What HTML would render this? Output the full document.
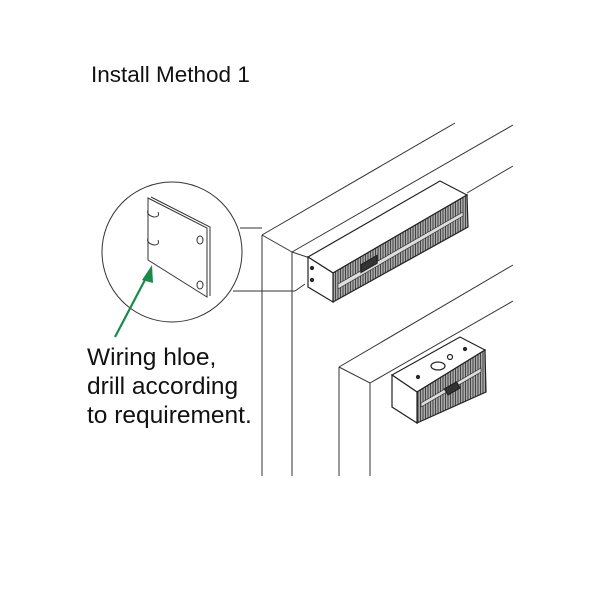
<!DOCTYPE html>
<html><head><meta charset="utf-8"><style>
html,body{margin:0;padding:0;background:#fff;width:600px;height:600px;overflow:hidden}
svg{position:absolute;left:0;top:0}
</style></head><body>
<svg width="600" height="600" viewBox="0 0 600 600" xmlns="http://www.w3.org/2000/svg">
<defs>
<pattern id="h" width="2.5" height="3" patternUnits="userSpaceOnUse">
<rect width="2.5" height="3" fill="#aaa"/><line x1="0.5" y1="0" x2="0.5" y2="3" stroke="#444" stroke-width="1"/>
</pattern>
</defs>
<text x="91" y="82" font-family="Liberation Sans, sans-serif" font-size="22.5" fill="#111">Install Method 1</text>
<g stroke="#333" stroke-width="1" fill="none">
<line x1="262" y1="235" x2="455" y2="123"/>
<line x1="292" y1="252" x2="513" y2="125"/>
<line x1="262" y1="235" x2="292" y2="252"/>
<line x1="262" y1="235" x2="262" y2="476"/>
<line x1="292" y1="252" x2="292" y2="476"/>
<line x1="292" y1="252" x2="310" y2="258"/>
<line x1="467" y1="193" x2="513" y2="166"/>
<line x1="339" y1="367" x2="513" y2="265"/>
<line x1="370" y1="383" x2="513" y2="301"/>
<line x1="339" y1="367" x2="370" y2="383"/>
<line x1="339" y1="367" x2="339" y2="476"/>
<line x1="370" y1="383" x2="370" y2="476"/>
<circle cx="172" cy="252" r="70"/>
<line x1="240" y1="228" x2="262" y2="228"/>
<line x1="233" y1="291" x2="295" y2="291"/>
<line x1="295" y1="291" x2="305" y2="284"/>
<path d="M148 198 L207 228 L207 297 L148 260 Z"/>
<path d="M151 197 L210 227 L210 296"/>
<path d="M148 210 q-2 5 6 7 q6 0 4 -5"/>
<path d="M148 238 q-2 5 6 7 q6 0 4 -5"/>
<ellipse cx="200" cy="240" rx="3" ry="4"/>
<ellipse cx="200" cy="285" rx="3" ry="4"/>
</g>
<g stroke="#222" stroke-width="1.2">
<path d="M308 257 L440 181 L467 195 L333 273 Z" fill="#fff"/>
<path d="M333 273 L467 195 L468 227 L333 302 Z" fill="url(#h)"/>
<path d="M338 284 L463 212 L463 216 L338 289 Z" fill="#ddd" stroke-width="0.6"/>
<path d="M308 257 L333 273 L333 302 L308 287 Z" fill="#fff"/>
<rect x="361" y="263" width="16" height="8" fill="#333" transform="skewY(-30) translate(0,210)"/>
<circle cx="312" cy="268" r="1.5" fill="#333"/><circle cx="312" cy="280" r="1.5" fill="#333"/>
</g>
<g stroke="#222" stroke-width="1.2">
<path d="M392 375 L460 337 L485 350 L417 392 Z" fill="#fff"/>
<path d="M417 392 L485 350 L486 392 L417 423 Z" fill="url(#h)"/>
<path d="M421 403 L481 368 L481 372 L421 407 Z" fill="#ddd" stroke-width="0.6"/>
<path d="M392 375 L417 392 L417 423 L392 407 Z" fill="#fff"/>
<ellipse cx="438" cy="366" rx="7" ry="4" fill="none"/>
<circle cx="450" cy="357" r="2.5" fill="none"/>
<circle cx="418" cy="377" r="1.5" fill="#333"/><circle cx="465" cy="349" r="1.5" fill="#333"/>
<rect x="445" y="385" width="14" height="7" fill="#333" transform="rotate(-30 452 388)"/>
</g>
<line x1="115" y1="337" x2="147" y2="276" stroke="#1a8a4a" stroke-width="2.2"/>
<polygon points="152,265 142,280 153,283" fill="#1a8a4a"/>
<g font-family="Liberation Sans, sans-serif" font-size="24.5" fill="#111">
<text x="87" y="365">Wiring hloe,</text>
<text x="87" y="394">drill according</text>
<text x="87" y="423">to requirement.</text>
</g>
</svg>
</body></html>
